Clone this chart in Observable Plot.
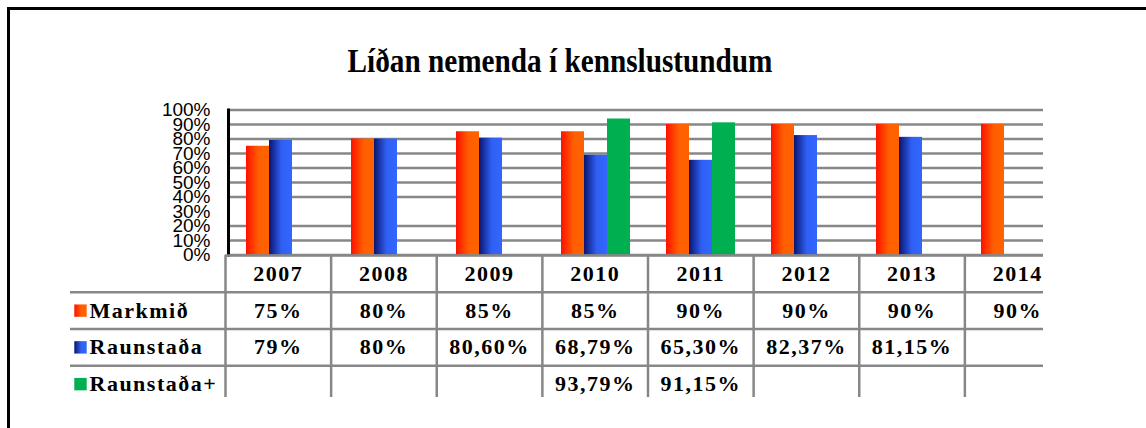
<!DOCTYPE html>
<html>
<head>
<meta charset="utf-8">
<script src="https://cdn.jsdelivr.net/npm/d3@7"></script>
<script src="https://cdn.jsdelivr.net/npm/@observablehq/plot@0.6"></script>
<style>
  html, body { margin: 0; padding: 0; background: #fff; }
  #page { position: relative; width: 1146px; height: 428px; overflow: hidden; background: #fff; }
  #frameL { position: absolute; left: 7px; top: 7px; width: 3px; height: 421px; background: #000; }
  #frameT { position: absolute; left: 7px; top: 7px; width: 1139px; height: 3px; background: #000; }
  #title { position: absolute; left: 560px; top: 44px; white-space: nowrap;
           font-family: "Liberation Serif", serif; font-weight: bold; font-size: 34px; line-height: 34px;
           transform: translateX(-50%) scaleX(0.86); color: #000; }
  #clip { position: absolute; left: 0; top: 0; width: 1043px; height: 397px; overflow: hidden; }
  #chart { position: absolute; left: 0; top: 0; width: 1146px; }
  #table { position: absolute; left: 0; top: 255px; width: 1146px; }
  #chart svg, #table svg { max-width: none !important; display: block; }
</style>
</head>
<body>
<div id="page">
  <div id="frameL"></div>
  <div id="frameT"></div>
  <div id="title">Líðan nemenda í kennslustundum</div>
  <div id="clip">
    <div id="chart"></div>
    <div id="table"></div>
  </div>
</div>
<script>
// ---- data ----
const years = ["2007", "2008", "2009", "2010", "2011", "2012", "2013", "2014"];
const series = ["Markmið", "Raunstaða", "Raunstaða+"];
const markmid = [75, 80, 85, 85, 90, 90, 90, 90];
const raunstada = [79, 80, 80.6, 68.79, 65.3, 82.37, 81.15, null];
const raunstadaPlus = [null, null, null, 93.79, 91.15, null, null, null];
const yTicks = [0, 10, 20, 30, 40, 50, 60, 70, 80, 90, 100];
const gridValues = [0, 10, 20, 40, 50, 60, 70, 80, 90, 100]; // the 30% line is absent in the original
const seriesFills = ["url(#gradOrange)", "url(#gradBlue)", "#00b050"];

const seriesValues = [markmid, raunstada, raunstadaPlus];
const barData = [];
series.forEach((s, si) => years.forEach((y, yi) => {
  const v = seriesValues[si][yi];
  if (v != null) barData.push({year: y, series: s, value: v});
}));

const fmt = v => v == null ? "" :
  (Number.isInteger(v) ? v + "%" : v.toFixed(2).replace(".", ",") + "%");

const tableCells = [];
years.forEach((y, yi) => tableCells.push({col: yi, row: 0, label: y}));
series.forEach((s, si) => years.forEach((y, yi) =>
  tableCells.push({col: yi, row: si + 1, label: fmt(seriesValues[si][yi])})));

const gridColor = "#878787";

// ---- chart ----
const chart = Plot.plot({
  width: 1146,
  height: 258,
  marginTop: 109.5,
  marginBottom: 3.5,
  marginLeft: 225,
  marginRight: 76,
  facet: {data: barData, x: "year"},
  fx: {domain: years, padding: 0, axis: null, label: null},
  x: {domain: series, paddingInner: 0, paddingOuter: 0.7, axis: null},
  y: {domain: [0, 100], ticks: yTicks, tickFormat: d => d + "%", tickSize: 0, tickPadding: 18, label: null},
  color: {domain: series, range: seriesFills},
  style: {fontFamily: "'Liberation Sans', Arial, sans-serif", fontSize: "19px", color: "#000", background: "transparent", overflow: "visible"},
  marks: [
    Plot.ruleY(gridValues, {stroke: gridColor, strokeWidth: 2.5}),
    Plot.barY(barData, {x: "series", y: "value", fill: "series"}),
    Plot.frame({anchor: "left", facetAnchor: "left", stroke: "#000", strokeWidth: 3})
  ]
});

const defs = d3.select(chart).insert("defs", ":first-child");
function grad(id, stops) {
  const g = defs.append("linearGradient").attr("id", id).attr("x1", 0).attr("x2", 1).attr("y1", 0).attr("y2", 0);
  stops.forEach(([o, c]) => g.append("stop").attr("offset", o).attr("stop-color", c));
}
grad("gradOrange", [[0, "#ff1000"], [0.55, "#ff5f00"], [1, "#ff6200"]]);
grad("gradBlue", [[0, "#0b1470"], [0.55, "#2f60f4"], [1, "#3366ff"]]);
document.getElementById("chart").append(chart);

// ---- data table under the chart ----
const table = Plot.plot({
  width: 1146,
  height: 147,
  marginLeft: 70,
  marginRight: 76,
  marginTop: 0,
  marginBottom: 0,
  x: {type: "linear", domain: [0, years.length], range: [225, 1070], axis: null},
  y: {type: "linear", domain: [0, series.length + 1], range: [0, 147], axis: null},
  color: {domain: series, range: seriesFills},
  style: {fontFamily: "'Liberation Serif', 'Times New Roman', serif", color: "#000", background: "transparent", overflow: "visible", letterSpacing: "1.5px"},
  marks: [
    Plot.ruleX(d3.range(years.length + 1), {y1: 0, y2: series.length + 1, stroke: gridColor, strokeWidth: 2.5}),
    Plot.ruleY(d3.range(1, series.length + 1), {stroke: gridColor, strokeWidth: 2.5}),
    Plot.ruleY([0], {x1: 0, x2: years.length, stroke: gridColor, strokeWidth: 2.5}),
    Plot.text(tableCells, {x: d => d.col + 0.5, y: d => d.row + 0.5, text: "label", fontSize: 22, fontWeight: "bold", fill: "#000"}),
    Plot.dot(series, {y: (d, i) => i + 1.5, frameAnchor: "left", dx: 10, symbol: "square", r: 7, fill: d => d, stroke: "none"}),
    Plot.text(series, {y: (d, i) => i + 1.5, frameAnchor: "left", dx: 19, textAnchor: "start", text: d => d, fontSize: 22, fontWeight: "bold", fill: "#000"})
  ]
});
document.getElementById("table").append(table);
</script>
</body>
</html>
